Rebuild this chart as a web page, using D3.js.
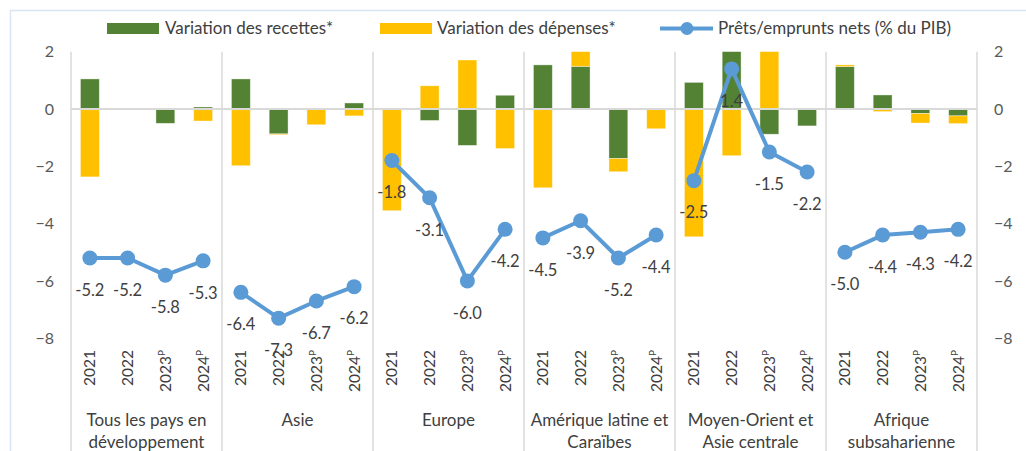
<!DOCTYPE html>
<html><head><meta charset="utf-8">
<script src="https://cdn.jsdelivr.net/npm/d3@7"></script>
<style>body{margin:0;background:#fff;overflow:hidden} text{font-family:Lato,"Open Sans",sans-serif}</style>
</head><body><svg id="c" width="1026" height="451"></svg>
<script>
// ---- data ----
const groupLabels = [["Tous les pays en","développement"],["Asie"],["Europe"],["Amérique latine et","Caraïbes"],["Moyen-Orient et","Asie centrale"],["Afrique","subsaharienne"]];
const years = ["2021","2022","2023ᴾ","2024ᴾ"];
const seriesNames = ["Variation des recettes*","Variation des dépenses*","Prêts/emprunts nets (% du PIB)"];
const recettes = [
  [1.05, 0.01, -0.50, 0.07],
  [1.05, -0.87, 0.00, 0.21],
  [0.00, -0.40, -1.27, 0.48],
  [1.54, 1.49, -1.73, 0.03],
  [0.93, 2.30, -0.88, -0.59],
  [1.48, 0.49, -0.16, -0.24]
];
const depenses = [
  [-2.37, 0.02, 0.00, -0.42],
  [-1.98, -0.03, -0.55, -0.24],
  [-3.55, 0.81, 1.71, -1.38],
  [-2.75, 0.70, -0.46, -0.69],
  [-4.46, -1.63, 2.40, 0.03],
  [0.06, -0.09, -0.33, -0.27]
];
const pretsNets = [
  [-5.2, -5.2, -5.8, -5.3],
  [-6.4, -7.3, -6.7, -6.2],
  [-1.8, -3.1, -6.0, -4.2],
  [-4.5, -3.9, -5.2, -4.4],
  [-2.5, 1.4, -1.5, -2.2],
  [-5.0, -4.4, -4.3, -4.2]
];
const yTicks = [2, 0, -2, -4, -6, -8];

// ---- layout ----
const colors = {rec:"#548235", dep:"#FFC000", line:"#5B9BD5"};
const svg = d3.select("#c");
const L = 71, R = 977, T = 51.7, B = 338.2;

svg.append("rect").attr("x",10.5).attr("y",10.5).attr("width",1100).attr("height",600)
  .attr("fill","none").attr("stroke","#dae5f3").attr("stroke-width",1.5);

const y = d3.scaleLinear().domain([-8, 2]).range([B, T]);
const gIdx = d3.range(groupLabels.length);
const x0 = d3.scaleBand().domain(gIdx).range([L, R]).padding(0);
const x1 = d3.scaleBand().domain(years).range([0, x0.bandwidth()]).paddingInner(0.5).paddingOuter(0.25);

const rows = [];
gIdx.forEach(g => years.forEach((yr, i) => rows.push({g, yr, rec: recettes[g][i], dep: depenses[g][i]})));
const stacked = d3.stack().keys(["rec","dep"]).offset(d3.stackOffsetDiverging)(rows);

svg.append("clipPath").attr("id","plot").append("rect")
  .attr("x",L).attr("y",T).attr("width",R-L).attr("height",B-T);

// separators
svg.append("g").selectAll("line").data(d3.range(groupLabels.length+1)).join("line")
  .attr("x1", i => i < groupLabels.length ? x0(i) : R)
  .attr("x2", i => i < groupLabels.length ? x0(i) : R)
  .attr("y1", T).attr("y2", 451)
  .attr("stroke","#d9d9d9").attr("stroke-width",1.5);

// bars
const barG = svg.append("g").attr("clip-path","url(#plot)");
stacked.forEach(s => {
  barG.append("g").attr("fill", colors[s.key]).selectAll("rect").data(s).join("rect")
    .attr("x", d => x0(d.data.g) + x1(d.data.yr))
    .attr("width", x1.bandwidth())
    .attr("y", d => y(Math.max(d[0], d[1])))
    .attr("height", d => Math.abs(y(d[0]) - y(d[1])))
    .attr("stroke","#fff").attr("stroke-opacity",0.5).attr("stroke-width",0.75);
});

// zero line
svg.append("line").attr("x1",L).attr("x2",R).attr("y1",y(0)).attr("y2",y(0))
  .attr("stroke","#d9d9d9").attr("stroke-width",2);

// axes labels
const leftAxis = d3.axisLeft(y).tickValues(yTicks).tickSize(0).tickPadding(0).tickFormat(d3.format("d"));
const la = svg.append("g").attr("transform",`translate(54,0)`).call(leftAxis);
const rightAxis = d3.axisRight(y).tickValues(yTicks).tickSize(0).tickPadding(0).tickFormat(d3.format("d"));
const ra = svg.append("g").attr("transform",`translate(994,0)`).call(rightAxis);
[la, ra].forEach(a => {
  a.select(".domain").remove();
  a.selectAll("text").attr("fill","#595959").attr("font-size",16).attr("font-family","Lato, 'Open Sans', sans-serif");
});

// year labels
gIdx.forEach(g => {
  years.forEach(yr => {
    const cx = x0(g) + x1(yr) + x1.bandwidth()/2;
    const t = svg.append("text").attr("transform",`translate(${cx},350) rotate(-90)`)
      .attr("text-anchor","end").attr("dy","0.36em").attr("fill","#404040").attr("font-size",15.5);
    const sup = yr.endsWith("ᴾ");
    t.append("tspan").text(sup ? yr.slice(0,-1) : yr);
    if (sup) t.append("tspan").text("P").attr("font-size",10).attr("dy","-0.55em");
  });
  const gx = x0(g) + x0.bandwidth()/2;
  groupLabels[g].forEach((ln, k) => {
    svg.append("text").attr("x", gx).attr("y", 426 + k*22).attr("text-anchor","middle")
      .attr("fill","#404040").attr("font-size",17).text(ln);
  });
});

// line
const line = d3.line().x(d => d.x).y(d => d.y);
gIdx.forEach(g => {
  const pts = years.map((yr, i) => ({x: x0(g) + x1(yr) + x1.bandwidth()/2, y: y(pretsNets[g][i]), v: pretsNets[g][i]}));
  svg.append("path").attr("d", line(pts)).attr("fill","none").attr("stroke",colors.line).attr("stroke-width",4).attr("stroke-linejoin","round");
  svg.append("g").selectAll("circle").data(pts).join("circle")
    .attr("cx", d => d.x).attr("cy", d => d.y).attr("r",7.5).attr("fill",colors.line);
  svg.append("g").selectAll("text").data(pts).join("text")
    .attr("x", d => d.x).attr("y", d => d.y + 32).attr("dy","0.35em").attr("text-anchor","middle")
    .attr("fill","#404040").attr("font-size",16.5).text(d => d3.format(".1f")(d.v).replace("−","-"));
});

// legend
const lg = svg.append("g");
lg.append("rect").attr("x",107).attr("y",23).attr("width",52).attr("height",11).attr("fill",colors.rec);
lg.append("text").attr("x",165).attr("y",28).attr("dy","0.35em").attr("fill","#404040").attr("font-size",17).text(seriesNames[0]);
lg.append("rect").attr("x",380).attr("y",23).attr("width",52).attr("height",11).attr("fill",colors.dep);
lg.append("text").attr("x",437).attr("y",28).attr("dy","0.35em").attr("fill","#404040").attr("font-size",17).text(seriesNames[1]);
lg.append("line").attr("x1",660).attr("x2",713).attr("y1",28.5).attr("y2",28.5).attr("stroke",colors.line).attr("stroke-width",4);
lg.append("circle").attr("cx",687).attr("cy",28.5).attr("r",6.5).attr("fill",colors.line);
lg.append("text").attr("x",718).attr("y",28).attr("dy","0.35em").attr("fill","#404040").attr("font-size",17).text(seriesNames[2]);
</script></body></html>
